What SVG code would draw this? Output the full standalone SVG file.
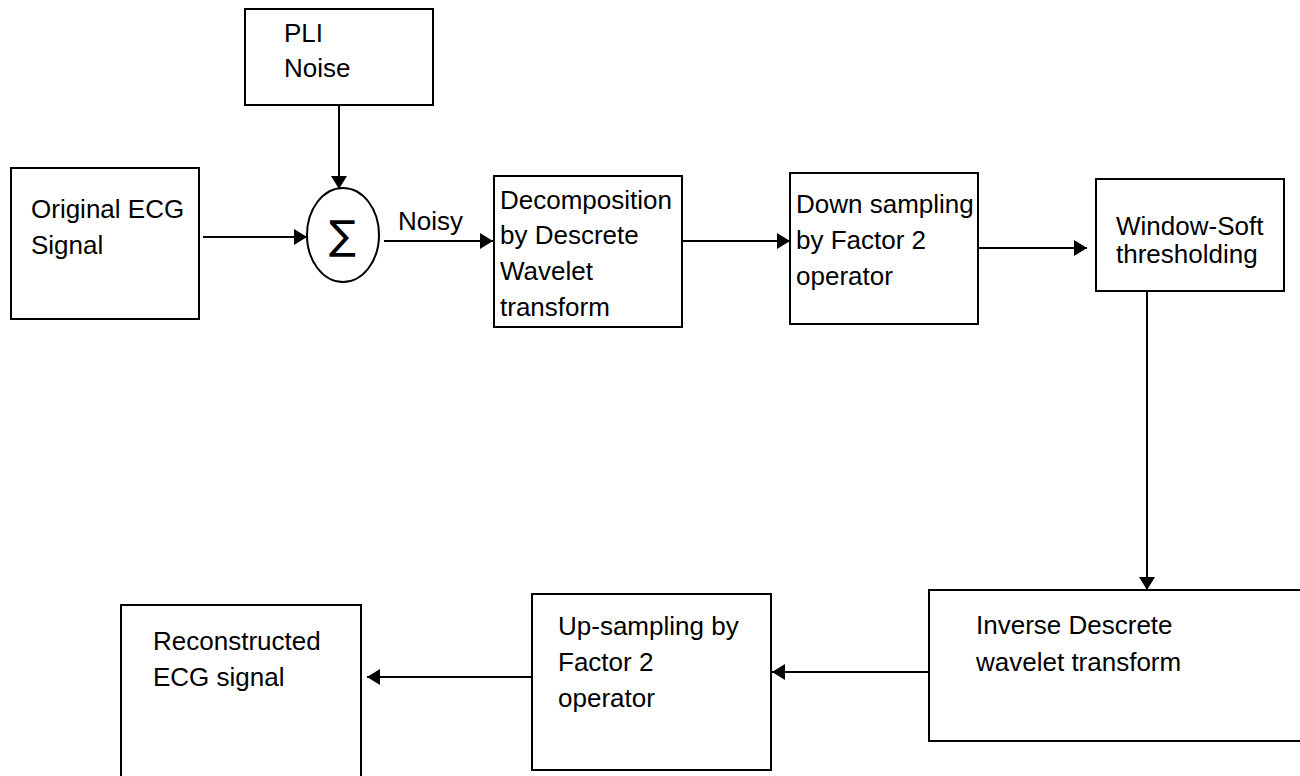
<svg xmlns="http://www.w3.org/2000/svg" width="1300" height="776" viewBox="0 0 1300 776">
<style>
.box{fill:#fff;stroke:#000;stroke-width:2}
.t{font-family:"Liberation Sans",Arial,sans-serif;font-size:26px;fill:#000}
.c{fill:none;stroke:#000;stroke-width:2}
</style>
<defs>
<marker id="ah" markerUnits="userSpaceOnUse" markerWidth="14" markerHeight="16" refX="13" refY="8" orient="auto">
<path d="M0,0 L13,8 L0,16 z" fill="#000"/>
</marker>
</defs>
<rect width="1300" height="776" fill="#fff"/>
<g id="pli">
<rect class="box" x="245" y="9" width="188" height="96"/>
<text class="t" x="284" y="42">PLI</text>
<text class="t" x="284" y="77">Noise</text>
</g>
<g id="orig">
<rect class="box" x="11" y="168" width="188" height="151"/>
<text class="t" x="31" y="218">Original ECG</text>
<text class="t" x="31" y="254">Signal</text>
</g>
<g id="sum">
<ellipse class="box" cx="343" cy="235" rx="36" ry="47"/>
<text x="342.5" y="249" text-anchor="middle" font-family="DejaVu Sans,sans-serif" font-size="40">∑</text>
</g>
<g id="decomp">
<rect class="box" x="494" y="176" width="188" height="151"/>
<text class="t" x="500" y="209">Decomposition</text>
<text class="t" x="500" y="244">by Descrete</text>
<text class="t" x="500" y="280">Wavelet</text>
<text class="t" x="500" y="316">transform</text>
</g>
<g id="down">
<rect class="box" x="790" y="173" width="188" height="151"/>
<text class="t" x="796" y="213">Down sampling</text>
<text class="t" x="796" y="249">by Factor 2</text>
<text class="t" x="796" y="285">operator</text>
</g>
<g id="window">
<rect class="box" x="1096" y="179" width="188" height="112"/>
<text class="t" x="1116" y="235">Window-Soft</text>
<text class="t" x="1116" y="263">thresholding</text>
</g>
<g id="inverse">
<rect class="box" x="929" y="590" width="380" height="151"/>
<text class="t" x="976" y="634">Inverse Descrete</text>
<text class="t" x="976" y="671">wavelet transform</text>
</g>
<g id="up">
<rect class="box" x="532" y="594" width="239" height="176"/>
<text class="t" x="558" y="635">Up-sampling by</text>
<text class="t" x="558" y="671">Factor 2</text>
<text class="t" x="558" y="707">operator</text>
</g>
<g id="recon">
<rect class="box" x="121" y="605" width="240" height="190"/>
<text class="t" x="153" y="650">Reconstructed</text>
<text class="t" x="153" y="686">ECG signal</text>
</g>
<g id="connectors">
<line class="c" x1="339" y1="105" x2="339" y2="189" marker-end="url(#ah)"/>
<line class="c" x1="203" y1="237" x2="307" y2="237" marker-end="url(#ah)"/>
<line class="c" x1="384" y1="241" x2="493" y2="241" marker-end="url(#ah)"/>
<text class="t" x="398" y="230">Noisy</text>
<line class="c" x1="682" y1="241" x2="790" y2="241" marker-end="url(#ah)"/>
<line class="c" x1="978" y1="248" x2="1087" y2="248" marker-end="url(#ah)"/>
<line class="c" x1="1147" y1="291" x2="1147" y2="590" marker-end="url(#ah)"/>
<line class="c" x1="929" y1="672" x2="772" y2="672" marker-end="url(#ah)"/>
<line class="c" x1="532" y1="677" x2="367" y2="677" marker-end="url(#ah)"/>
</g>
</svg>
